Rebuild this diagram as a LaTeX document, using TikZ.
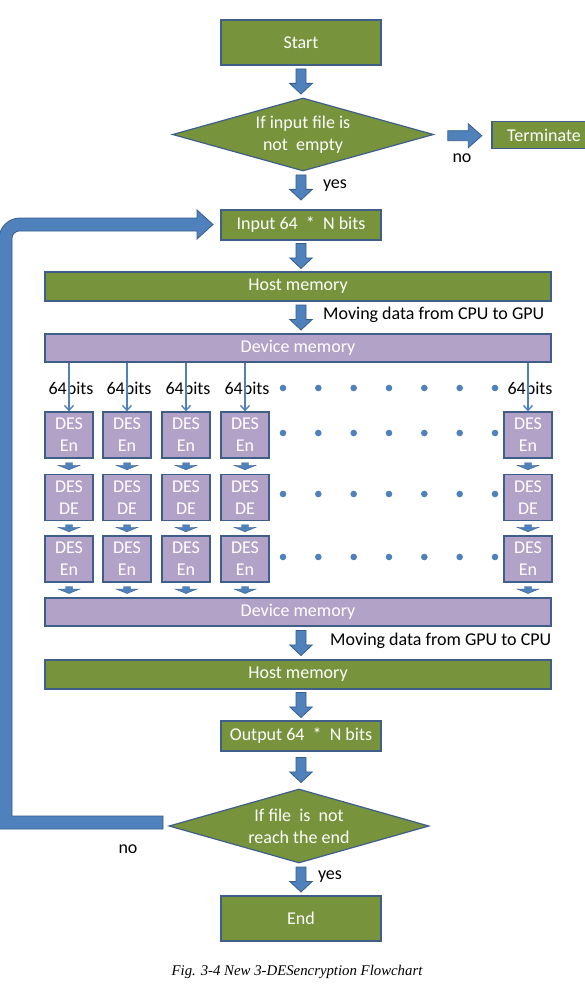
\documentclass[tikz,border=0pt]{standalone}
\usepackage{fontspec}
\setmainfont{Carlito}
\newfontfamily\capfont{Liberation Serif}
\usetikzlibrary{shapes.geometric,calc,arrows.meta}
\definecolor{gfill}{HTML}{77933C}
\definecolor{bline}{HTML}{3F5F8A}
\definecolor{pfill}{HTML}{B3A2C7}
\definecolor{afill}{HTML}{4F81BD}
\definecolor{aline}{HTML}{385D8A}
% down block arrow: #1 centre, #2 length, #3 shaft width, #4 head width, #5 head length, #6 line width
\newcommand\vblock[6]{%
  \filldraw[fill=afill,draw=aline,line width=#6,shift={(#1)}]
    (-#3/2,-#2/2) -- (#3/2,-#2/2) -- (#3/2,#2/2-#5) -- (#4/2,#2/2-#5) -- (0,#2/2)
    -- (-#4/2,#2/2-#5) -- (-#3/2,#2/2-#5) -- cycle;}
% right block arrow
\newcommand\hblock[6]{%
  \filldraw[fill=afill,draw=aline,line width=#6,shift={(#1)}]
    (-#2/2,-#3/2) -- (#2/2-#5,-#3/2) -- (#2/2-#5,-#4/2) -- (#2/2,0)
    -- (#2/2-#5,#4/2) -- (#2/2-#5,#3/2) -- (-#2/2,#3/2) -- cycle;}
\begin{document}
\begin{tikzpicture}[x=1pt,y=-1pt,
  box/.style={draw=bline,line width=1.2pt,fill=gfill,text=white,inner sep=0pt,
    font=\fontsize{18}{22}\selectfont,align=center},
  pbox/.style={box,fill=pfill},
  desbox/.style={pbox,minimum width=48pt,minimum height=46pt},
  dec/.style={box,diamond,aspect=3.6},
  thinarr/.style={draw=afill,line width=1.4pt,-{Straight Barb[length=5pt,width=9pt]}},
  lab/.style={text=black,inner sep=0pt,font=\fontsize{18}{22}\selectfont},
  dot/.style={fill=afill}
]
\useasboundingbox (0,0) rectangle (584,987);
\fill[white] (0,0) rectangle (584,987);

% main nodes
\node[box,minimum width=160pt,minimum height=45pt] (start) at (301,42.5) {Start};
\node[dec,minimum width=261pt,minimum height=73pt] (dec1) at (303,134.5) {If input file is\\not\ \ empty};
\node[box,minimum width=104pt,minimum height=27pt] (term) at (544,135) {Terminate};
\node[box,minimum width=160pt,minimum height=30pt] (input) at (301,225) {Input 64 \ * \ N bits};
\node[box,minimum width=506pt,minimum height=29pt] (host1) at (298,286.5) {Host memory};
\node[pbox,minimum width=506pt,minimum height=28pt] (dev1) at (298,348) {Device memory};
\node[pbox,minimum width=506pt,minimum height=28pt] (dev2) at (298,612) {Device memory};
\node[box,minimum width=506pt,minimum height=29pt] (host2) at (298,674.5) {Host memory};
\node[box,minimum width=160pt,minimum height=30pt] (output) at (301,736) {Output 64 \ * \ N bits};
\node[dec,minimum width=260pt,minimum height=74pt] (dec2) at (299,826) {If file\ \ is\ \ not\\reach the end};
\node[box,minimum width=160pt,minimum height=45pt] (end) at (301,918.5) {End};

% block arrows between nodes
\coordinate (m1) at ($(start.south)!0.5!(dec1.north)$);
\coordinate (m2) at ($(dec1.south)!0.5!(input.north)+(0,-3)$);
\coordinate (m3) at ($(input.south)!0.5!(host1.north)$);
\coordinate (m4) at ($(host1.south)!0.5!(dev1.north)$);
\coordinate (m5) at ($(dev2.south)!0.5!(host2.north)$);
\coordinate (m6) at ($(host2.south)!0.5!(output.north)$);
\coordinate (m7) at ($(output.south)!0.5!(dec2.north)$);
\coordinate (m8) at ($(dec2.south)!0.5!(end.north)$);
\coordinate (a1) at (m1 -| start);
\coordinate (a2) at (m2 -| start);
\coordinate (a3) at (m3 -| start);
\coordinate (a4) at (m4 -| start);
\coordinate (a5) at (m5 -| start);
\coordinate (a6) at (m6 -| start);
\coordinate (a7) at (m7 -| start);
\coordinate (a8) at (m8 -| start);
\foreach \a in {a1,a2,a3,a4,a5,a6,a7,a8}{\vblock{\a}{25}{10}{22.6}{10.6}{0.8pt}}
\coordinate (ano) at ($(dec1.east)!0.5!(term.west)+(2,1)$);
\hblock{ano}{34}{10}{24}{13.5}{0.8pt}

% labels
\node[lab] (yes1) at (335,186) {yes};
\node[lab] (no1) at (462,158) {no};
\node[lab,anchor=west] (mv1) at (323,315) {Moving data from CPU to GPU};
\node[lab,anchor=west] (mv2) at (330,641) {Moving data from GPU to CPU};
\node[lab] (no2) at (128,849) {no};
\node[lab] (yes2) at (330,877) {yes};

% DES grid
\foreach \c/\x in {1/69,2/127,3/186,4/245,5/528}{
  \node[desbox] (ra\c) at (\x,435) {DES\\En};
  \node[desbox] (rb\c) at (\x,497.5) {DES\\DE};
  \node[desbox] (rc\c) at (\x,559) {DES\\En};
  \node[lab] (bits\c) at (\x+2,388) {64bits};
  \draw[thinarr] (ra\c.north |- dev1.south) -- (ra\c.north);
  \coordinate (s1\c) at ($(ra\c.south)!0.5!(rb\c.north)$);
  \coordinate (s2\c) at ($(rb\c.south)!0.5!(rc\c.north)$);
  \coordinate (s3\c) at ($(rc\c.south)!0.5!(rc\c.south |- dev2.north)$);
  \vblock{s1\c}{7}{7}{22}{4.5}{0.4pt}
  \vblock{s2\c}{7}{7}{22}{4.5}{0.4pt}
  \vblock{s3\c}{7}{7}{22}{4.5}{0.4pt}
}
% dots
\foreach \y in {388,433,494,557}{
  \foreach \x in {283,318.3,353.7,389,424.3,459.7,495}{
    \fill[dot] (\x,\y) circle (3.3);
  }
}

% loop arrow (no branch back to input)
\coordinate (loopend) at (163,822.5);
\fill[afill,draw=aline,line width=0.8pt]
  (163,816) -- (12,816) -- (12,238)
  .. controls (12,234.1) and (15.9,231) .. (19,231)
  -- (197,231) -- (197,239) -- (213,224.5) -- (197,210) -- (197,218)
  -- (20,218) .. controls (8.4,218) and (-1,227.4) .. (-1,239)
  -- (-1,829) -- (163,829) -- cycle;

% caption
\node[font=\capfont\itshape\fontsize{14.8}{17}\selectfont,inner sep=0pt] (cap) at (297,972) {Fig. 3-4 New 3-DESencryption Flowchart};
\end{tikzpicture}
\end{document}
